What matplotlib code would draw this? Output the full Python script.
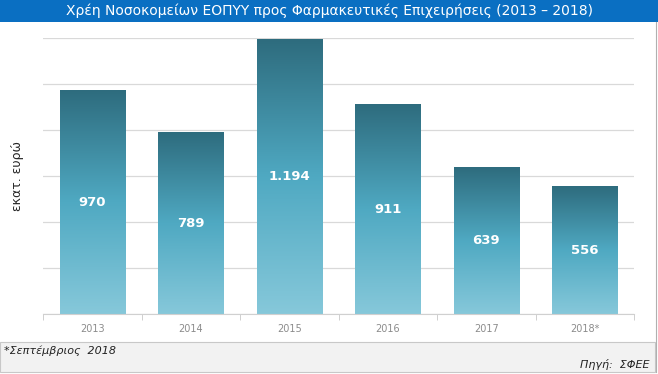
import numpy as np
import matplotlib
matplotlib.use("Agg")
import matplotlib.pyplot as plt
from matplotlib.colors import LinearSegmentedColormap
from matplotlib.patches import Rectangle

# Data
years = ["2013", "2014", "2015", "2016", "2017", "2018*"]
debt = [970, 789, 1194, 911, 639, 556]
labels = ["970", "789", "1.194", "911", "639", "556"]

title = "Χρέη Νοσοκομείων ΕΟΠΥΥ προς Φαρμακευτικές Επιχειρήσεις (2013 – 2018)"
ylabel = "εκατ. ευρώ"
note = "*Σεπτέμβριος  2018"
source = "Πηγή:  ΣΦΕΕ"

plt.rcParams['font.family'] = ['DejaVu Sans']

fig = plt.figure(figsize=(6.58, 3.74), dpi=100)
fig.patch.set_facecolor("white")

# title band
fig.patches.append(Rectangle((0, 1 - 22 / 374), 1, 22 / 374, transform=fig.transFigure,
                             facecolor="#0a6fc2", edgecolor="none", zorder=0))
fig.text(0.5, 1 - 11 / 374, title, color="white", fontsize=10, ha="center", va="center",
         family=['Liberation Sans Narrow', 'DejaVu Sans'])

# footer band
fig.patches.append(Rectangle((0, 2 / 374), 1 - 3 / 658, 30 / 374, transform=fig.transFigure,
                             facecolor="#f2f2f2", edgecolor="#c8c8c8", lw=0.8, zorder=0))
fig.text(4 / 658, 1 - 351 / 374, note, fontsize=8, style="italic", color="#222222",
         ha="left", va="center", family=['Liberation Sans Narrow', 'DejaVu Sans'])
fig.text(650 / 658, 1 - 365 / 374, source, fontsize=8, style="italic", color="#222222",
         ha="right", va="center", family=['Liberation Sans Narrow', 'DejaVu Sans'])
# right border line
fig.add_artist(plt.Line2D([1 - 2 / 658, 1 - 2 / 658], [2 / 374, 1 - 22 / 374],
                          transform=fig.transFigure, color="#b0b0b0", lw=0.8))

ax = fig.add_axes([43 / 658, 60 / 374, 591 / 658, 276 / 374])

cmap = LinearSegmentedColormap.from_list("g", ["#86c8da", "#4fa9c2", "#2e6c7e"])
grad = np.linspace(0, 1, 256).reshape(-1, 1)
width = 0.66
x = np.arange(len(years))
bars = ax.bar(x, debt, width=width, color="none", zorder=3)
for b, lab in zip(bars, labels):
    x0, w, h = b.get_x(), b.get_width(), b.get_height()
    ax.imshow(grad, extent=[x0, x0 + w, 0, h], origin="lower", cmap=cmap,
              aspect="auto", zorder=2, interpolation="bilinear")
    ax.text(x0 + w / 2, h / 2, lab, color="white", fontsize=9.5, fontweight="bold",
            ha="center", va="center", zorder=4)
ax.set_xlim(-0.5, len(years) - 0.5)
ax.set_ylim(0, 1200)

ax.set_yticks(np.arange(0, 1201, 200))
ax.yaxis.grid(True, color="#d9d9d9", lw=0.9)
ax.set_axisbelow(True)
ax.tick_params(axis="y", length=0, labelleft=False)

ax.set_xticks(x)
ax.set_xticklabels(years, color="#8c8c8c", fontsize=7)
ax.set_xticks(np.arange(-0.5, len(years)), minor=True)
ax.tick_params(axis="x", which="major", length=0, pad=7)
ax.tick_params(axis="x", which="minor", length=4, color="#c8c8c8")

for s in ["top", "right", "left"]:
    ax.spines[s].set_visible(False)
ax.spines["bottom"].set_color("#d0d0d0")

fig.text(18 / 658, 1 - 176 / 374, ylabel, rotation=90, fontsize=9, color="#262626",
         ha="center", va="center")

plt.savefig("out.png", dpi=100)
